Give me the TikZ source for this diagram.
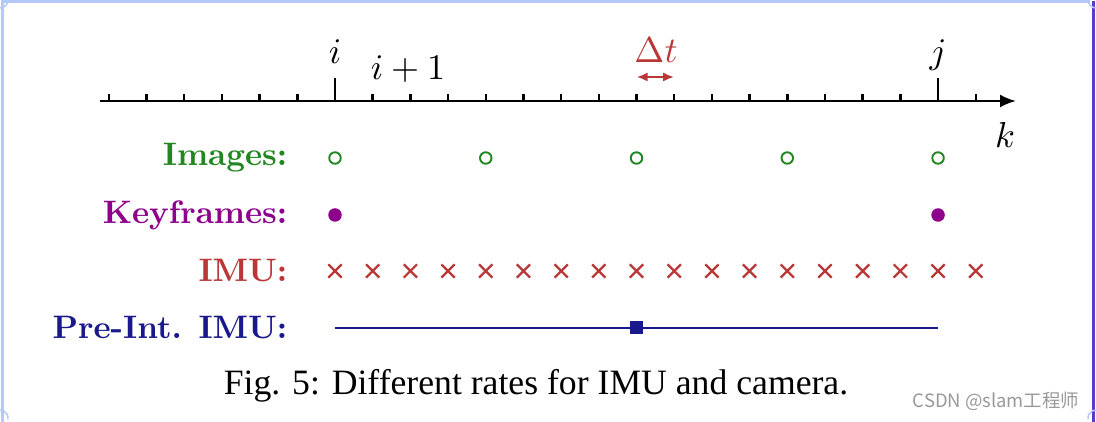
\documentclass[tikz,border=0pt]{standalone}
\usepackage{fontspec}
\usepackage{amsmath}
\usetikzlibrary{arrows.meta,shapes.misc}
\newfontfamily\capfont{Liberation Serif}
\newfontfamily\wmfont{Noto Sans CJK SC}
\definecolor{imggreen}{RGB}{34,135,34}
\definecolor{kfpurple}{RGB}{140,0,140}
\definecolor{imured}{RGB}{185,55,55}
\definecolor{preblue}{RGB}{25,25,140}
\definecolor{framelight}{RGB}{180,200,250}
\definecolor{framedark}{RGB}{90,60,200}

\begin{document}
\begin{tikzpicture}[
  tick/.style={line width=1.4pt},
  lbl/.style={anchor=east,inner sep=0pt,scale=1.85,font=\bfseries},
  mth/.style={inner sep=0pt,scale=2.05},
  imgmk/.style={circle,draw=imggreen,line width=1.1pt,minimum size=0.23cm,inner sep=0pt},
  kfmk/.style={circle,fill=kfpurple,minimum size=0.27cm,inner sep=0pt},
  imumk/.style={cross out,draw=imured,line width=1.3pt,minimum size=0.22cm,inner sep=0pt},
  premk/.style={rectangle,fill=preblue,minimum size=0.26cm,inner sep=0pt}]
\def\dk{0.7538}
\useasboundingbox (-6.70,-6.42) rectangle (15.22,2.02);
% frame of the screenshot
\draw[framelight,line width=0.06cm] (-6.64,-6.42) -- (-6.64,1.99) -- (15.10,1.99);
\draw[framedark,line width=0.06cm] (15.17,1.99) -- (15.17,-6.42);
\draw[framelight,line width=0.03cm] (-6.70,1.86) arc (-90:0:0.16);
\draw[framelight,line width=0.03cm] (15.22,1.86) arc (270:180:0.16);
\draw[framelight,line width=0.03cm] (-6.70,-6.18) arc (90:-10:0.16);
\draw[framelight,line width=0.03cm] (15.22,-6.18) arc (90:190:0.16);

% time axis
\coordinate (ax0) at (-4.70,0);
\coordinate (ax1) at (13.62,0);
\draw[tick,-{Latex[length=0.32cm,width=0.26cm]}] (ax0) -- (ax1);
\foreach \n in {-6,...,-1,1,2,...,15,17}
  \draw[tick] (\n*\dk,0) -- ++(0,0.13);
\draw[tick] (0,0) -- ++(0,0.46);
\draw[tick] (16*\dk,0) -- ++(0,0.46);
\node[mth,anchor=base] (ti) at (0,0.74) {$i$};
\node[mth,anchor=base] (tip) at (1.46,0.42) {$i+1$};
\node[mth,anchor=base] (tj) at (16*\dk,0.74) {$j$};
\node[mth,anchor=base] (tk) at (13.40,-0.94) {$k$};
\node[mth,anchor=base,imured] (dt) at (6.42,0.76) {$\Delta t$};
\coordinate (dta) at (8*\dk,0.48);
\coordinate (dtb) at (9*\dk,0.48);
\draw[imured,line width=1.3pt,{Latex[length=0.22cm,width=0.18cm]}-{Latex[length=0.22cm,width=0.18cm]}] (dta) -- (dtb);

% rows
\node[lbl,imggreen] (limg) at (-0.94,-1.14) {Images:};
\node[lbl,kfpurple] (lkf) at (-0.94,-2.28) {Keyframes:};
\node[lbl,imured] (limu) at (-0.94,-3.40) {IMU:};
\node[lbl,preblue] (lpre) at (-0.94,-4.54) {Pre-Int. IMU:};
\foreach \n in {0,4,8,12,16}
  \node[imgmk] (im\n) at (\n*\dk,-1.14) {};
\node[kfmk] (kf0) at (0,-2.28) {};
\node[kfmk] (kf16) at (16*\dk,-2.28) {};
\foreach \n in {0,...,17}
  \node[imumk] (u\n) at (\n*\dk,-3.40) {};
\coordinate (pa) at (0,-4.54);
\coordinate (pb) at (16*\dk,-4.54);
\draw[preblue,line width=1.4pt] (pa) -- (pb);
\node[premk] (pm) at (8*\dk,-4.54) {};

% caption and watermark
\node[inner sep=0pt,scale=2.03,anchor=base] (cap) at (4.02,-5.86) {\capfont Fig. 5: Different rates for IMU and camera.};
\node[inner sep=0pt,scale=1.05,text=black!40] (wm) at (13.22,-6.0) {\wmfont CSDN @slam工程师};
\end{tikzpicture}
\end{document}
